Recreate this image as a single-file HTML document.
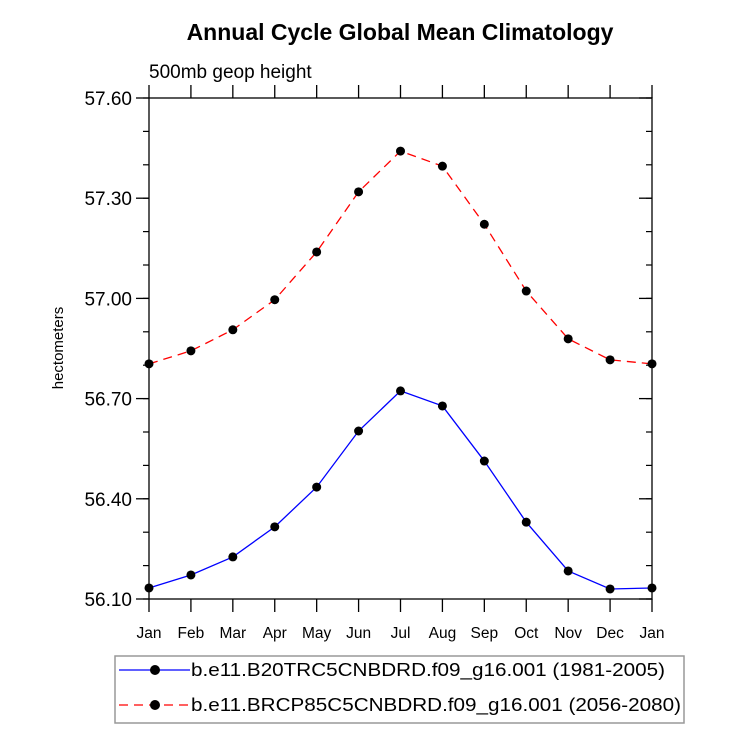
<!DOCTYPE html>
<html><head><meta charset="utf-8"><style>
body{margin:0;background:#fff;}
svg{display:block;font-family:"Liberation Sans",Arial,sans-serif;}
</style></head><body>
<svg id="chart" width="733" height="744">
<text x="400" y="40" text-anchor="middle" font-size="23" font-weight="bold">Annual Cycle Global Mean Climatology</text>
<text x="149" y="78" font-size="19">500mb geop height</text>
<text transform="translate(63,348) rotate(-90)" text-anchor="middle" font-size="15">hectometers</text>
<g id="axes"></g>
<g id="series"></g>
<rect x="115" y="656" width="569" height="67" fill="none" stroke="#999" stroke-width="1.5"/>
<g>
<line x1="119" y1="670" x2="190" y2="670" stroke="#00f" stroke-width="1.3"/>
<circle cx="155" cy="670" r="5" fill="#000"/>
<text x="191" y="676" font-size="18" textLength="474" lengthAdjust="spacingAndGlyphs">b.e11.B20TRC5CNBDRD.f09_g16.001 (1981-2005)</text>
</g>
<g>
<line x1="119" y1="705" x2="190" y2="705" stroke="#f00" stroke-width="1.3" stroke-dasharray="9,6"/>
<circle cx="155" cy="705" r="5" fill="#000"/>
<text x="191" y="711" font-size="18" textLength="490" lengthAdjust="spacingAndGlyphs">b.e11.BRCP85C5CNBDRD.f09_g16.001 (2056-2080)</text>
</g>
</svg>
<script>
const months=["Jan","Feb","Mar","Apr","May","Jun","Jul","Aug","Sep","Oct","Nov","Dec","Jan"];
const histValues=[56.133,56.172,56.226,56.316,56.435,56.603,56.723,56.678,56.513,56.33,56.184,56.13,56.133];
const rcpValues=[56.804,56.843,56.906,56.996,57.139,57.319,57.441,57.396,57.222,57.022,56.879,56.816,56.804];
const yTicks=[56.10,56.40,56.70,57.00,57.30,57.60];
const L=149,R=652,T=98,B=599,yMin=56.10,yMax=57.60;
const NS="http://www.w3.org/2000/svg";
function xs(i){return L+(R-L)*i/(months.length-1);}
function ys(v){return B-(v-yMin)/(yMax-yMin)*(B-T);}
function mk(tag,attrs,parent){const e=document.createElementNS(NS,tag);for(const k in attrs)e.setAttribute(k,attrs[k]);parent.appendChild(e);return e;}
const ax=document.getElementById('axes');
const frame=mk('rect',{x:L,y:T,width:R-L,height:B-T,fill:'none',stroke:'#000','stroke-width':1.3},ax);


for(let i=0;i<months.length;i++){
  const x=xs(i);
  mk('line',{x1:x,y1:B,x2:x,y2:B+13,stroke:'#000','stroke-width':1.3},ax);
  mk('line',{x1:x,y1:T,x2:x,y2:T-13,stroke:'#000','stroke-width':1.3},ax);
  const t=mk('text',{x:x,y:B+39,'text-anchor':'middle','font-size':15.5},ax);
  t.textContent=months[i];
  
  
}
for(let v=yMin;v<=yMax+1e-6;v+=0.1){
  const y=ys(v);
  mk('line',{x1:L,y1:y,x2:L-6,y2:y,stroke:'#000','stroke-width':1.2},ax);
  mk('line',{x1:R,y1:y,x2:R-6,y2:y,stroke:'#000','stroke-width':1.2},ax);
}
yTicks.forEach(v=>{
  const y=ys(v);
  mk('line',{x1:L,y1:y,x2:L-13,y2:y,stroke:'#000','stroke-width':1.3},ax);
  mk('line',{x1:R,y1:y,x2:R-13,y2:y,stroke:'#000','stroke-width':1.3},ax);
  const t=mk('text',{x:L-17,y:y+7,'text-anchor':'end','font-size':19},ax);
  t.textContent=v.toFixed(2);
  
  
});
const sg=document.getElementById('series');
function draw(vals,color,dash,name){
  const g=mk('g',{},sg);
  
  
  const pts=vals.map((v,i)=>xs(i)+','+ys(v)).join(' ');
  const a={points:pts,fill:'none',stroke:color,'stroke-width':1.3};
  if(dash)a['stroke-dasharray']=dash;
  mk('polyline',a,g);
  vals.forEach((v,i)=>{
    const c=mk('circle',{cx:xs(i),cy:ys(v),r:4.5,fill:'#000'},g);
    
    
  });
}
draw(histValues,'#00f',null,'series-historical');
draw(rcpValues,'#f00','9,6','series-rcp85');
</script>
</body></html>
